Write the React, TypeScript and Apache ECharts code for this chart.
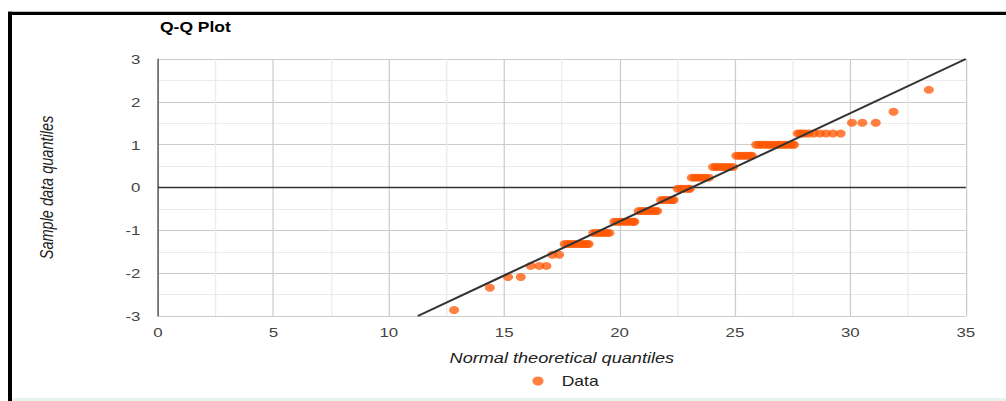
import React, { useEffect, useRef } from "react";
import * as echarts from "echarts";

// Sample quantile levels (y) and the theoretical-quantile positions (x) of the points on each level
const sampleLevels = [-2.86, -2.34, -2.09, -1.83, -1.57, -1.32, -1.06, -0.8, -0.55, -0.29, -0.03, 0.23, 0.48, 0.74, 1.0, 1.26, 1.51, 1.77, 2.28];
const theoreticalX: number[][] = [
  [12.83],
  [14.38],
  [15.17, 15.72],
  [16.15, 16.52, 16.83],
  [17.09, 17.38],
  [17.62, 17.74, 17.86, 17.98, 18.1, 18.22, 18.34, 18.46, 18.58, 18.66],
  [18.86, 18.98, 19.1, 19.22, 19.34, 19.46, 19.56],
  [19.77, 19.89, 20.01, 20.13, 20.25, 20.37, 20.49, 20.6, 20.64],
  [20.83, 20.95, 21.07, 21.19, 21.31, 21.43, 21.55, 21.63],
  [21.8, 21.92, 22.04, 22.16, 22.28, 22.34],
  [22.52, 22.64, 22.76, 22.88, 23.0, 23.04],
  [23.13, 23.25, 23.37, 23.49, 23.61, 23.73, 23.87],
  [24.05, 24.17, 24.29, 24.41, 24.53, 24.65, 24.77, 24.92],
  [25.06, 25.18, 25.3, 25.42, 25.54, 25.66, 25.73],
  [25.92, 26.04, 26.16, 26.28, 26.4, 26.52, 26.64, 26.76, 26.88, 27.0, 27.12, 27.24, 27.36, 27.48, 27.56],
  [27.72, 27.82, 27.92, 28.05, 28.2, 28.42, 28.68, 28.95, 29.25, 29.58],
  [30.07, 30.52, 31.1],
  [31.87],
  [33.4],
];

// Reference (fit) line end points
const fitLineX = [11.26, 35];
const fitLineY = [-3, 3];

// Axis ticks
const xTicks = [0, 5, 10, 15, 20, 25, 30, 35];
const yTicks = [-3, -2, -1, 0, 1, 2, 3];

const STRETCH = 1006 / 805;
const FONT = 'Arial, "Liberation Sans", sans-serif';

export default function App() {
  const ref = useRef<HTMLDivElement>(null);

  useEffect(() => {
    if (!ref.current) return;
    const chart = echarts.init(ref.current, undefined, { renderer: "svg" });

    const points: number[][] = [];
    sampleLevels.forEach((y, i) => {
      theoreticalX[i].forEach((x) => points.push([x, y]));
    });
    const fitLine = fitLineX.map((x, i) => [x, fitLineY[i]]);

    chart.setOption({
      animation: false,
      backgroundColor: "#ffffff",
      title: {
        text: "Q-Q Plot",
        left: 128,
        top: 20,
        padding: 0,
        textStyle: { fontFamily: FONT, fontSize: 14, fontWeight: "bold", color: "#000" },
      },
      legend: {
        data: ["Data"],
        left: 426,
        top: 374,
        padding: 0,
        icon: "circle",
        itemWidth: 22,
        itemHeight: 9,
        textStyle: { fontFamily: FONT, fontSize: 14, color: "#222", padding: [0, 0, 0, 3] },
      },
      grid: { left: 126.4, right: 32.2, top: 59, bottom: 85, containLabel: false },
      xAxis: {
        type: "value",
        min: xTicks[0],
        max: xTicks[xTicks.length - 1],
        interval: xTicks[1] - xTicks[0],
        name: "Normal theoretical quantiles",
        nameLocation: "middle",
        nameGap: 34,
        nameTextStyle: { fontFamily: FONT, fontSize: 14.5, fontStyle: "italic", color: "#222" },
        axisLine: { show: false, onZero: false },
        axisTick: { show: false },
        axisLabel: { fontFamily: FONT, fontSize: 13.5, color: "#444", margin: 9 },
        splitLine: { show: true, lineStyle: { color: "#cccccc", width: 1 } },
        minorTick: { show: false, splitNumber: 2 },
        minorSplitLine: { show: true, lineStyle: { color: "#ebebeb", width: 1 } },
      },
      yAxis: {
        type: "value",
        min: yTicks[0],
        max: yTicks[yTicks.length - 1],
        interval: 1,
        name: "Sample data quantiles",
        nameLocation: "middle",
        nameGap: 82,
        nameRotate: 90,
        nameTextStyle: { fontFamily: FONT, fontSize: 14.5, fontStyle: "italic", color: "#222" },
        axisLine: { show: true, onZero: false, lineStyle: { color: "#444", width: 1 } },
        axisTick: { show: false },
        axisLabel: { fontFamily: FONT, fontSize: 13.5, color: "#444", margin: 14 },
        splitLine: { show: true, lineStyle: { color: "#cccccc", width: 1 } },
        minorTick: { show: false, splitNumber: 2 },
        minorSplitLine: { show: true, lineStyle: { color: "#ebebeb", width: 1 } },
      },
      series: [
        {
          name: "Data",
          type: "scatter",
          data: points,
          symbol: "circle",
          symbolSize: 8,
          itemStyle: { color: "#ff5500", opacity: 0.75 },
          z: 3,
          markLine: {
            silent: true,
            symbol: "none",
            label: { show: false },
            lineStyle: { color: "#333", width: 1.3, type: "solid" },
            data: [{ yAxis: 0 }],
            z: 1,
          },
        },
        {
          name: "Fit",
          type: "line",
          data: fitLine,
          symbol: "none",
          lineStyle: { color: "#333", width: 2 },
          itemStyle: { color: "#333" },
          z: 4,
        },
      ],
      graphic: [
        { type: "rect", shape: { x: 6.4, y: 11.7, width: 805, height: 3.3 }, style: { fill: "#000" }, silent: true },
        { type: "rect", shape: { x: 6.4, y: 11.7, width: 3.2, height: 400 }, style: { fill: "#000" }, silent: true },
        { type: "rect", shape: { x: 10, y: 398, width: 800, height: 3 }, style: { fill: "#e6f4f0" }, silent: true },
      ],
    });

    return () => chart.dispose();
  }, []);

  return (
    <div
      ref={ref}
      style={{
        position: "fixed",
        left: 0,
        top: 0,
        width: 805,
        height: 401,
        transform: `scaleX(${STRETCH})`,
        transformOrigin: "0 0",
      }}
    />
  );
}
